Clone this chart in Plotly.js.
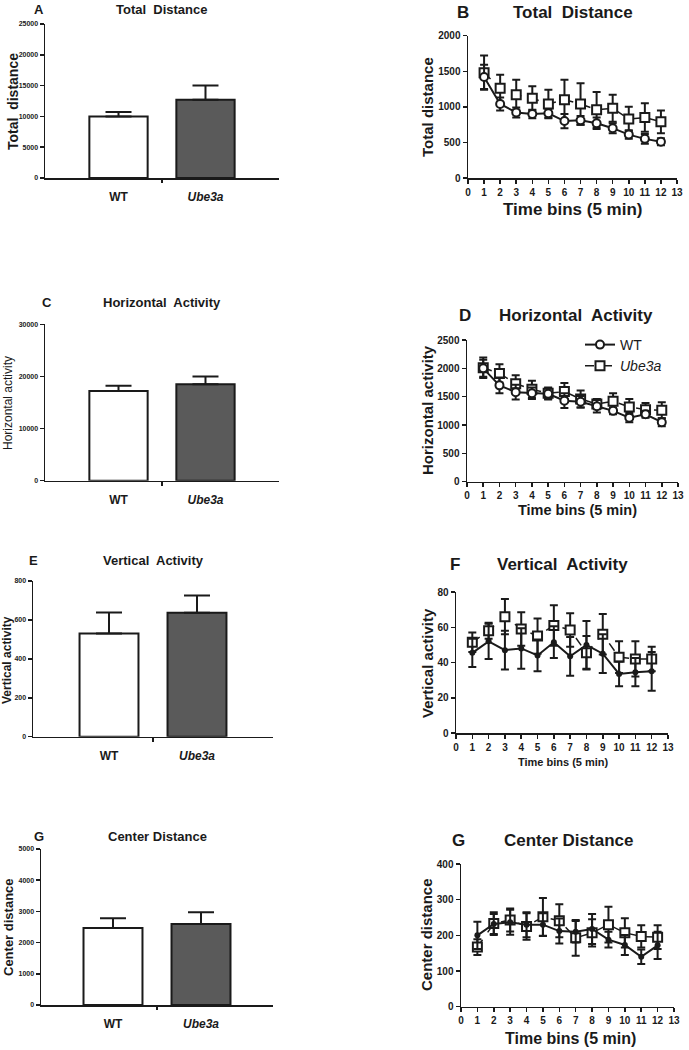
<!DOCTYPE html>
<html>
<head>
<meta charset="utf-8">
<script src="https://cdn.plot.ly/plotly-3.0.1.min.js"></script>
<style>html,body{margin:0;padding:0;background:#fff;}#chart{width:689px;height:1050px;}</style>
</head>
<body>
<div id="chart"></div>
<script>
// ---------- data ----------
const groups = ['WT', 'Ube3a'];
const bins = [1, 2, 3, 4, 5, 6, 7, 8, 9, 10, 11, 12];

const barTotalDist = [10000, 12700];
const barTotalDistErr = [700, 2300];
const barHoriz = [17200, 18500];
const barHorizErr = [1000, 1500];
const barVert = [530, 637];
const barVertErr = [108, 88];
const barCenter = [2470, 2600];
const barCenterErr = [310, 375];

const wtDist = [1420, 1040, 920, 900, 910, 800, 810, 770, 700, 610, 550, 510];
const wtDistErr = [170, 90, 70, 60, 60, 100, 60, 80, 70, 60, 70, 50];
const ubeDist = [1480, 1260, 1170, 1120, 1040, 1100, 1040, 960, 980, 830, 850, 790];
const ubeDistErr = [240, 190, 210, 170, 200, 280, 290, 250, 190, 170, 200, 160];

const wtHoriz = [2000, 1700, 1580, 1560, 1550, 1430, 1410, 1330, 1250, 1130, 1190, 1050];
const wtHorizErr = [150, 140, 130, 100, 100, 130, 100, 110, 60, 80, 60, 70];
const ubeHoriz = [2010, 1910, 1730, 1630, 1560, 1590, 1460, 1370, 1420, 1320, 1270, 1260];
const ubeHorizErr = [180, 160, 150, 150, 100, 150, 150, 90, 140, 140, 120, 140];

const wtVert = [45.5, 52, 47, 48, 44, 51.5, 43.5, 50, 45, 33.5, 34.5, 35];
const wtVertErr = [8, 10, 11, 11.5, 9, 9, 11, 13.5, 11, 7, 8, 11];
const ubeVert = [51.5, 58, 66, 59, 55, 61, 58.5, 45.5, 56, 43, 42, 42];
const ubeVertErr = [5.5, 4.5, 10, 9.5, 10, 11.5, 9.5, 9.5, 11.5, 9, 10, 7];

const wtCenter = [200, 232, 237, 230, 230, 212, 210, 218, 188, 173, 140, 172];
const wtCenterErr = [38, 28, 35, 35, 32, 35, 30, 42, 22, 28, 20, 38];
const ubeCenter = [167, 233, 243, 225, 252, 241, 193, 207, 230, 207, 197, 195];
const ubeCenterErr = [22, 32, 32, 37, 53, 46, 50, 38, 50, 41, 31, 33];

// ---------- helpers ----------
const W = 689, H = 1050;
const FONT = 'Liberation Sans, Arial, sans-serif';
const INK = '#1a1a1a';
const dx = (l, r) => [l / W, r / W];
const dy = (t, b) => [1 - b / H, 1 - t / H];
const groupIdx = groups.map((g, i) => i);
const groupText = groups.map((g, i) => i === 0 ? g : '<i>' + g + '</i>');

function barX(anchor, domain, range, fs) {
  return {
    anchor: anchor, domain: domain, range: range, tickmode: 'array', tickvals: groupIdx, ticktext: groupText,
    ticks: 'outside', ticklen: 7, tickcolor: 'rgba(0,0,0,0)',
    showline: true, linecolor: INK, linewidth: 1.5, zeroline: false, showgrid: false,
    tickfont: {family: FONT, size: fs, color: INK, weight: 'bold'},
    fixedrange: true
  };
}
// overlay axis that only carries the single tick between the two groups
function midTickX(over, anchor, range) {
  return {
    overlaying: over, anchor: anchor, range: range, tickmode: 'array', tickvals: [0.5], ticktext: [' '],
    ticks: 'outside', ticklen: 4, tickwidth: 1.2, tickcolor: INK,
    showline: false, zeroline: false, showgrid: false, showticklabels: true, fixedrange: true
  };
}
function valY(anchor, domain, range, dtick, fs) {
  return {
    anchor: anchor, domain: domain, range: range, dtick: dtick, tick0: 0, tickformat: 'd',
    ticks: 'outside', ticklen: 4, tickwidth: 1.5, tickcolor: INK,
    showline: true, linecolor: INK, linewidth: 1.5, zeroline: false, showgrid: false,
    tickfont: {family: FONT, size: fs, color: INK, weight: 'bold'}, fixedrange: true
  };
}
function timeX(anchor, domain, fs) {
  return {
    anchor: anchor, domain: domain, range: [0, 13], dtick: 1, tick0: 0,
    ticks: 'outside', ticklen: 4, tickwidth: 1.5, tickcolor: INK,
    showline: true, linecolor: INK, linewidth: 1.5, zeroline: false, showgrid: false,
    tickfont: {family: FONT, size: fs, color: INK, weight: 'bold'}, fixedrange: true
  };
}

function barTrace(vals, errs, ax) {
  return {
    type: 'bar', x: groupIdx, y: vals, width: 0.67,
    xaxis: 'x' + ax, yaxis: 'y' + ax, showlegend: false,
    marker: {color: ['#ffffff', '#5a5a5a'], line: {color: INK, width: 2}},
    error_y: {type: 'data', array: errs, arrayminus: [0, 0], symmetric: false, color: INK, thickness: 2, width: 13}
  };
}
// invisible copy of the bar data, only so the overlay tick axis gets drawn
function ghostTrace(vals, xax, yax) {
  return {
    type: 'scatter', mode: 'markers', x: groupIdx, y: vals, xaxis: xax, yaxis: yax,
    marker: {opacity: 0, size: 1}, showlegend: false, hoverinfo: 'skip'
  };
}
function wtTrace(vals, errs, ax, filled, legend) {
  return {
    type: 'scatter', mode: 'lines+markers', x: bins, y: vals, name: groups[0],
    xaxis: 'x' + ax, yaxis: 'y' + ax, showlegend: !!legend,
    line: {color: INK, width: 2},
    marker: filled ? {symbol: 'circle', size: 6, color: INK}
                   : {symbol: 'circle', size: 8, color: '#fff', line: {color: INK, width: 2}},
    error_y: {type: 'data', array: errs, color: INK, thickness: 2, width: 4}
  };
}
function ubeTrace(vals, errs, ax, legend) {
  return {
    type: 'scatter', mode: 'lines+markers', x: bins, y: vals, name: '<i>' + groups[1] + '</i>',
    xaxis: 'x' + ax, yaxis: 'y' + ax, showlegend: !!legend,
    line: {color: INK, width: 1.5, dash: 'dash'},
    marker: {symbol: 'square', size: 9, color: '#fff', line: {color: INK, width: 2}},
    error_y: {type: 'data', array: errs, color: INK, thickness: 2, width: 4}
  };
}

const data = [
  barTrace(barTotalDist, barTotalDistErr, ''),
  ubeTrace(ubeDist, ubeDistErr, '2'), wtTrace(wtDist, wtDistErr, '2', false),
  barTrace(barHoriz, barHorizErr, '3'),
  ubeTrace(ubeHoriz, ubeHorizErr, '4', true), wtTrace(wtHoriz, wtHorizErr, '4', false, true),
  barTrace(barVert, barVertErr, '5'),
  ubeTrace(ubeVert, ubeVertErr, '6'), wtTrace(wtVert, wtVertErr, '6', true),
  barTrace(barCenter, barCenterErr, '7'),
  ubeTrace(ubeCenter, ubeCenterErr, '8'), wtTrace(wtCenter, wtCenterErr, '8', true),
  ghostTrace(barTotalDist, 'x9', 'y'),
  ghostTrace(barHoriz, 'x10', 'y3'),
  ghostTrace(barVert, 'x11', 'y5'),
  ghostTrace(barCenter, 'x12', 'y7')
];

function ann(text, px, py, size, opts) {
  return Object.assign({
    text: text, xref: 'paper', yref: 'paper', x: px / W, y: 1 - py / H,
    xanchor: 'center', yanchor: 'middle', showarrow: false,
    font: {family: FONT, size: size, color: INK, weight: 'bold'}
  }, opts || {});
}
function yTitle(text, px, py, size, weight) {
  return ann(text, px, py, size, {textangle: -90, font: {family: FONT, size: size, color: INK, weight: weight || 'bold'}});
}

const annotations = [
  ann('A', 39, 10, 13), ann('Total\u00a0 Distance', 162, 10, 13),
  yTitle('Total\u00a0 distance', 13, 102, 14),
  ann('B', 463, 12, 17), ann('Total\u00a0 Distance', 573, 12, 17),
  yTitle('Total distance', 427, 107, 15),
  ann('Time bins (5 min)', 573, 210, 17),
  ann('C', 47, 302, 13), ann('Horizontal\u00a0 Activity', 162, 302, 13),
  yTitle('Horizontal activity', 8, 403, 12, 'normal'),
  ann('D', 465, 315, 17), ann('Horizontal\u00a0 Activity', 576, 315, 17),
  yTitle('Horizontal activity', 428, 410, 15),
  ann('Time bins (5 min)', 577, 510, 14.5),
  ann('E', 33, 560, 13), ann('Vertical\u00a0 Activity', 153, 560, 13),
  yTitle('Vertical activity', 7, 660, 12),
  ann('F', 455, 564, 17), ann('Vertical\u00a0 Activity', 562, 564, 17),
  yTitle('Vertical activity', 427, 663, 15),
  ann('Time bins (5 min)', 563, 762, 11),
  ann('G', 39, 836, 13), ann('Center Distance', 157, 836, 13),
  yTitle('Center distance', 8, 927, 13),
  ann('G', 458, 840, 17), ann('Center Distance', 568, 840, 17),
  yTitle('Center distance', 427, 935, 15),
  ann('Time bins (5 min)', 570, 1038, 16)
];

const rA = [-0.845, 1.845], rE = [-0.864, 1.864], rG = [-0.818, 1.818];
const layout = {
  width: W, height: H, margin: {l: 0, r: 0, t: 0, b: 0},
  paper_bgcolor: '#fff', plot_bgcolor: 'rgba(0,0,0,0)',
  font: {family: FONT, color: INK},
  showlegend: true,
  legend: {x: 580 / W, y: 1 - 329 / H, xanchor: 'left', yanchor: 'top', bgcolor: 'rgba(0,0,0,0)',
           font: {family: FONT, size: 14, color: INK}, itemwidth: 30, tracegroupgap: 0, traceorder: 'reversed'},
  xaxis: barX('y', dx(45, 279), rA, 12),
  yaxis: valY('x', dy(24, 178), [0, 25000], 5000, 7),
  xaxis2: timeX('y2', dx(468, 677), 10),
  yaxis2: valY('x2', dy(35.7, 178), [0, 2000], 500, 10),
  xaxis3: barX('y3', dx(45, 279), rA, 12),
  yaxis3: valY('x3', dy(324.3, 480.7), [0, 30000], 10000, 7),
  xaxis4: timeX('y4', dx(467, 678), 10),
  yaxis4: valY('x4', dy(340, 481.7), [0, 2500], 500, 10),
  xaxis5: barX('y5', dx(33, 273), rE, 12),
  yaxis5: valY('x5', dy(581, 736.7), [0, 800], 200, 7),
  xaxis6: timeX('y6', dx(456, 668), 10),
  yaxis6: valY('x6', dy(592, 733), [0, 80], 20, 10),
  xaxis7: barX('y7', dx(41, 273), rG, 12),
  yaxis7: valY('x7', dy(849, 1005), [0, 5000], 1000, 7),
  xaxis8: timeX('y8', dx(461, 674), 10),
  yaxis8: valY('x8', dy(864, 1006.7), [0, 400], 100, 10),
  xaxis9: midTickX('x', 'y', rA),
  xaxis10: midTickX('x3', 'y3', rA),
  xaxis11: midTickX('x5', 'y5', rE),
  xaxis12: midTickX('x7', 'y7', rG),
  annotations: annotations
};

Plotly.newPlot('chart', data, layout, {displayModeBar: false, staticPlot: true});
</script>
</body>
</html>
